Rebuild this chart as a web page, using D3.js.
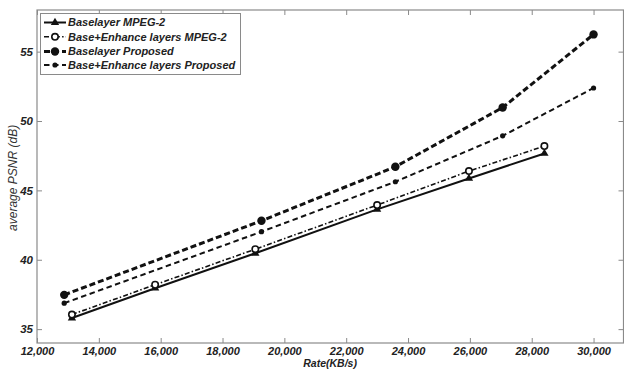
<!DOCTYPE html>
<html>
<head>
<meta charset="utf-8">
<script src="https://cdn.jsdelivr.net/npm/d3@7"></script>
<style>
  html, body { margin: 0; padding: 0; background: #fff; }
  svg { display: block; font-family: "Liberation Sans", Arial, sans-serif; }
</style>
</head>
<body>
<svg id="chart" width="624" height="370"></svg>
<script>
// Rate (KB/s) sample points for each curve
const rateMpeg = [13130, 15820, 19060, 23000, 25970, 28410];
const rateProposed = [12880, 19260, 23590, 27060, 30000];

// Average PSNR (dB)
const baseMpeg = [35.8, 37.95, 40.47, 43.63, 45.86, 47.66];
const enhMpeg = [36.05, 38.2, 40.76, 43.94, 46.39, 48.19];
const baseProposed = [37.47, 42.81, 46.7, 50.97, 56.24];
const enhProposed = [36.87, 42.02, 45.62, 48.93, 52.38];

const seriesNames = [
  "Baselayer MPEG-2",
  "Base+Enhance layers MPEG-2",
  "Baselayer Proposed",
  "Base+Enhance layers Proposed"
];

const xTicks = [12000, 14000, 16000, 18000, 20000, 22000, 24000, 26000, 28000, 30000];
const yTicks = [35, 40, 45, 50, 55];

const series = [
  { name: seriesNames[0], xs: rateMpeg, ys: baseMpeg, dash: null, width: 2, marker: "triangle" },
  { name: seriesNames[1], xs: rateMpeg, ys: enhMpeg, dash: "5,2.2,1.5,2.2", width: 1.6, marker: "open" },
  { name: seriesNames[2], xs: rateProposed, ys: baseProposed, dash: "6,3", width: 3, marker: "big" },
  { name: seriesNames[3], xs: rateProposed, ys: enhProposed, dash: "5.5,3.5", width: 2, marker: "small" }
];

const svg = d3.select("#chart");
const plotLeft = 37, plotRight = 623.5, plotTop = 10, plotBottom = 343;

const x = d3.scaleLinear().domain([12000, 31000]).range([plotLeft, plotLeft + (31000 - 12000) * 30.92 / 1000]);
const y = d3.scaleLinear().domain([34, 58]).range([plotBottom, plotTop]);

const frameColor = "#8a8a8a";
const fmt = d3.format(",");

// Frame
svg.append("rect")
  .attr("x", plotLeft).attr("y", plotTop)
  .attr("width", plotRight - plotLeft).attr("height", plotBottom - plotTop)
  .attr("fill", "none").attr("stroke", frameColor).attr("stroke-width", 1.2);

// Axes with inward ticks
const xAxis = svg.append("g").attr("transform", `translate(0,${plotBottom})`)
  .call(d3.axisBottom(x).tickValues(xTicks).tickSize(-5).tickPadding(4).tickFormat(fmt));
const xTop = svg.append("g").attr("transform", `translate(0,${plotTop})`)
  .call(d3.axisTop(x).tickValues(xTicks).tickSize(-5).tickFormat(""));
const yAxis = svg.append("g").attr("transform", `translate(${plotLeft},0)`)
  .call(d3.axisLeft(y).tickValues(yTicks).tickSize(-5).tickPadding(4));
const yRight = svg.append("g").attr("transform", `translate(${plotRight},0)`)
  .call(d3.axisRight(y).tickValues(yTicks).tickSize(-5).tickFormat(""));

[xAxis, xTop, yAxis, yRight].forEach(g => {
  g.select(".domain").remove();
  g.selectAll(".tick line").attr("stroke", frameColor).attr("stroke-width", 1);
  g.selectAll(".tick text")
    .attr("fill", "#222")
    .style("font-size", "11.5px")
    .style("font-weight", "bold")
    .style("font-style", "italic");
});
xAxis.selectAll(".tick text").style("font-size", "11px").attr("dy", "0.71em");

// Axis titles
svg.append("text")
  .attr("x", x(21480)).attr("y", 367)
  .attr("text-anchor", "middle")
  .style("font-size", "10.5px").style("font-weight", "bold").style("font-style", "italic")
  .attr("fill", "#222")
  .text("Rate(KB/s)");

svg.append("text")
  .attr("transform", `translate(13,${y(45.9)}) rotate(-90)`)
  .attr("text-anchor", "middle")
  .attr("dy", "0.35em")
  .style("font-size", "12px").style("font-style", "italic")
  .attr("fill", "#333")
  .text("average PSNR (dB)");

// Marker drawing
function drawMarker(g, kind, cx, cy) {
  if (kind === "triangle") {
    g.append("path")
      .attr("d", d3.symbol().type(d3.symbolTriangle).size(30)())
      .attr("transform", `translate(${cx},${cy})`)
      .attr("fill", "#111");
  } else if (kind === "open") {
    g.append("circle").attr("cx", cx).attr("cy", cy).attr("r", 3.2)
      .attr("fill", "#fff").attr("stroke", "#111").attr("stroke-width", 1.6);
  } else if (kind === "big") {
    g.append("circle").attr("cx", cx).attr("cy", cy).attr("r", 4.2).attr("fill", "#111");
  } else {
    g.append("circle").attr("cx", cx).attr("cy", cy).attr("r", 2.6).attr("fill", "#111");
  }
}

const line = d3.line().x(d => x(d[0])).y(d => y(d[1]));

series.forEach(s => {
  const pts = s.xs.map((v, i) => [v, s.ys[i]]);
  const g = svg.append("g");
  g.append("path")
    .attr("d", line(pts))
    .attr("fill", "none")
    .attr("stroke", "#111")
    .attr("stroke-width", s.width)
    .attr("stroke-dasharray", s.dash);
  pts.forEach(p => drawMarker(g, s.marker, x(p[0]), y(p[1])));
});

// Legend
const lg = svg.append("g");
lg.append("rect")
  .attr("x", 40.5).attr("y", 13.5).attr("width", 200).attr("height", 61)
  .attr("fill", "#fff").attr("stroke", frameColor).attr("stroke-width", 1);

const rowY = [22.5, 36.8, 51.5, 65];
series.forEach((s, i) => {
  const yy = rowY[i];
  lg.append("line")
    .attr("x1", 44).attr("x2", 66).attr("y1", yy).attr("y2", yy)
    .attr("stroke", "#111").attr("stroke-width", s.width)
    .attr("stroke-dasharray", s.dash);
  drawMarker(lg, s.marker, 55, yy);
  lg.append("text")
    .attr("x", 68).attr("y", yy).attr("dy", "0.36em")
    .style("font-size", "11px").style("font-weight", "bold").style("font-style", "italic")
    .attr("fill", "#222")
    .text(s.name);
});
</script>
</body>
</html>
